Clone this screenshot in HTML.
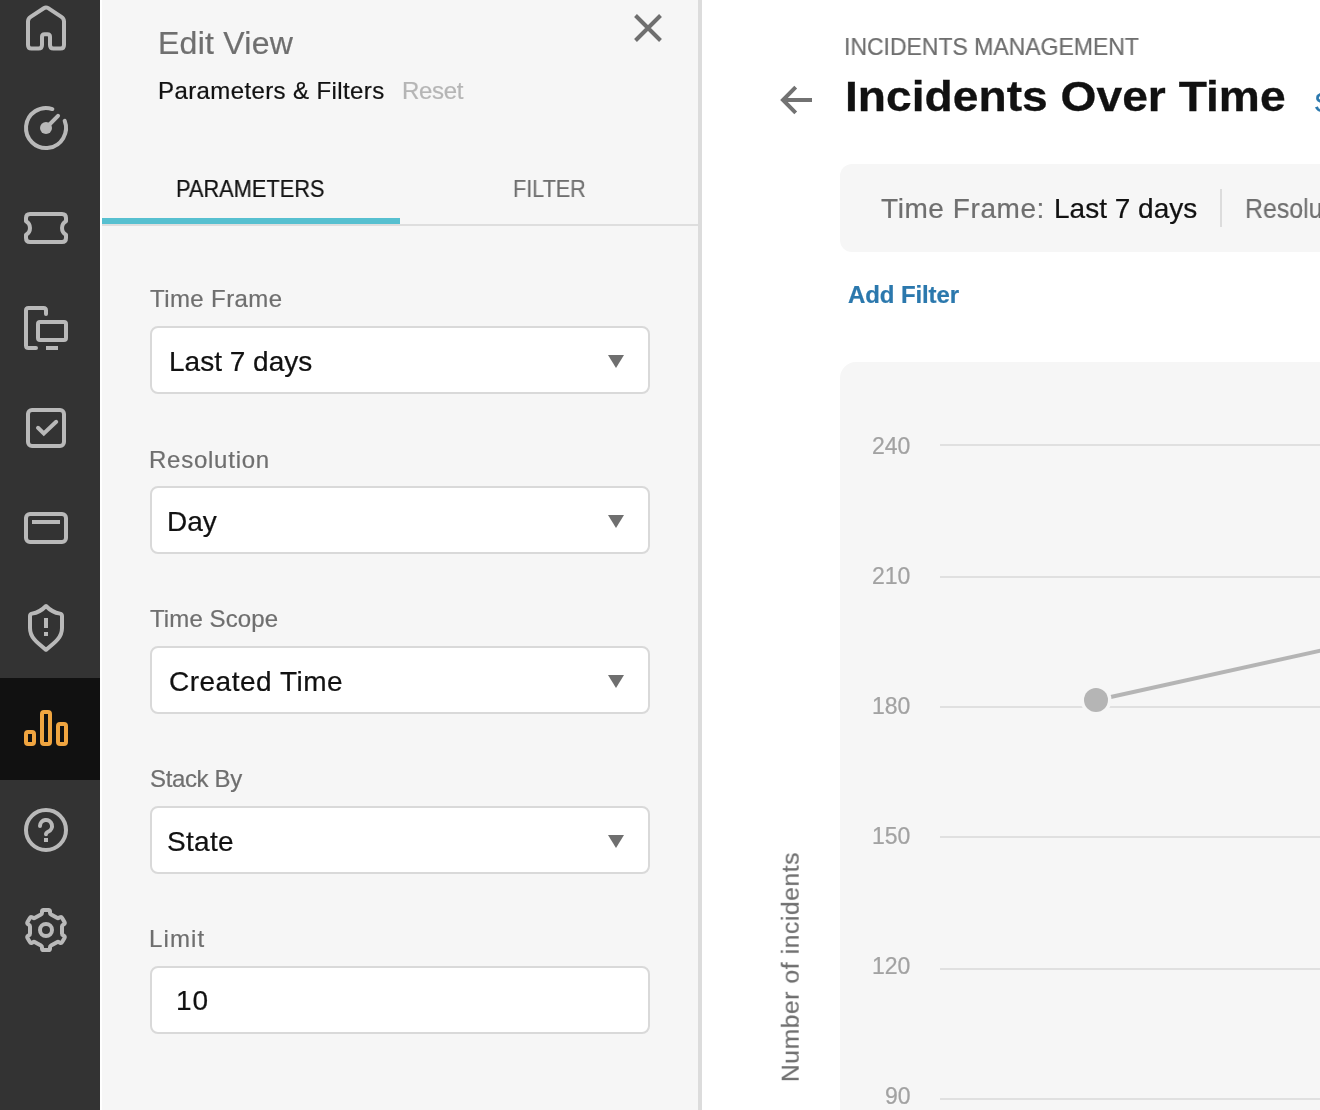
<!DOCTYPE html>
<html lang="en">
<head>
<meta charset="utf-8">
<title>Incidents Over Time</title>
<style>
*{box-sizing:border-box;margin:0;padding:0}
html,body{width:1320px;height:1110px;overflow:hidden;background:#fff}
body{font-family:"Liberation Sans",sans-serif;color:#111;position:relative}
#root{position:absolute;left:0;top:0;width:1320px;height:1110px;overflow:hidden}
.abs{position:absolute}
.t{position:absolute;white-space:nowrap;line-height:1;will-change:transform;-webkit-text-stroke-width:0.22px}
/* sidebar */
#side{position:absolute;left:0;top:0;width:100px;height:1110px;background:#333}
#side .active{position:absolute;left:0;top:678px;width:100px;height:102px;background:#111}
#side svg{position:absolute;left:22px;width:48px;height:48px;fill:none;stroke:#b9b9b9;stroke-width:4;stroke-linecap:round;stroke-linejoin:round;overflow:visible}
/* panel */
#panel{position:absolute;left:102px;top:0;width:600px;height:1110px;background:#f6f6f6;border-right:4px solid #dcdcdc}
.tabline{position:absolute;left:102px;top:224px;width:596px;height:2px;background:#dedede}
.tabactive{position:absolute;left:102px;top:218px;width:298px;height:6px;background:#57c0d0}
.lbl{color:#6f6f6f;font-size:24px}
.box{position:absolute;left:150px;width:500px;height:68px;background:#fff;border:2px solid #d9d9d9;border-radius:8px}
.val{font-size:28px;color:#111}
.caret{position:absolute;left:608px;width:0;height:0;border-left:8px solid transparent;border-right:8px solid transparent;border-top:13px solid #6f6f6f}
/* main */
#fbar{position:absolute;left:840px;top:164px;width:500px;height:88px;background:#f6f6f6;border-radius:12px}
#chart{position:absolute;left:840px;top:362px;width:500px;height:800px;background:#f6f6f6;border-radius:16px}
.grid{position:absolute;left:940px;width:380px;height:2px;background:#e0e0e0}
.ax{color:#a2a2a2;font-size:23px}
</style>
</head>
<body>
<div id="root">

<!-- SIDEBAR -->
<div id="side">
  <div class="active"></div>
  <!-- home -->
  <svg style="top:4px" viewBox="0 0 48 48"><path d="M6 17.6 V41 Q6 44.5 9.5 44.5 H16.5 Q20 44.5 20 41 V32.8 Q20 30.2 22.6 30.2 H25.4 Q28 30.2 28 32.8 V41 Q28 44.5 31.5 44.5 H38.5 Q42 44.5 42 41 V17.6 Q42 14.6 39.4 12.9 L26.2 4.2 Q24 2.8 21.8 4.2 L8.6 12.9 Q6 14.6 6 17.6 Z"/></svg>
  <!-- gauge -->
  <svg style="top:104px" viewBox="0 0 48 48"><path d="M30.35 5.03 A20 20 0 1 0 42.67 16.83"/><path d="M24 24 L36 11.8"/><circle cx="24" cy="24" r="6" fill="#b9b9b9" stroke="none"/></svg>
  <!-- ticket -->
  <svg style="top:204px" viewBox="0 0 48 48"><path d="M8 10 H40 Q44 10 44 14 V17.2 A7.8 7.8 0 0 0 44 30.8 V34 Q44 38 40 38 H8 Q4 38 4 34 V30.8 A7.8 7.8 0 0 0 4 17.2 V14 Q4 10 8 10 Z"/></svg>
  <!-- devices -->
  <svg style="top:304px" viewBox="0 0 48 48"><path d="M24 10 V6.5 Q24 4 21.5 4 H6.5 Q4 4 4 6.5 V41.5 Q4 44 6.5 44 H14"/><rect x="16" y="18" width="28" height="18" rx="2"/><path d="M24 44 H36" stroke-linecap="butt"/></svg>
  <!-- check -->
  <svg style="top:404px" viewBox="0 0 48 48"><rect x="6" y="6" width="36" height="36" rx="4"/><path d="M16 23.8 L21.8 29.4 L34.2 17.8" stroke-linejoin="miter"/></svg>
  <!-- card -->
  <svg style="top:504px" viewBox="0 0 48 48"><rect x="4" y="10" width="40" height="28" rx="4"/><path d="M10 18 H38" stroke-linecap="butt"/></svg>
  <!-- shield -->
  <svg style="top:604px" viewBox="0 0 48 48"><path d="M24 2 C20 6.2 15 8.8 10 9.6 Q8 10 8 12 V24 C8 33 14 38 24 45.8 C34 38 40 33 40 24 V12 Q40 10 38 9.6 C33 8.8 28 6.2 24 2 Z"/><path d="M24 14 V24 M24 28 V32" stroke-linecap="butt"/></svg>
  <!-- bars (active) -->
  <svg style="top:704px;stroke:#f0a540" viewBox="0 0 48 48"><rect x="4" y="28" width="8" height="12" rx="2"/><rect x="20" y="8" width="8" height="32" rx="2"/><rect x="36" y="20" width="8" height="20" rx="2"/></svg>
  <!-- help -->
  <svg style="top:806px" viewBox="0 0 48 48"><circle cx="24" cy="24" r="20"/><path d="M18 20 A6 6 0 1 1 26.5 25.5 C25 26.2 24 27 24 28.2"/><path d="M24 32 V36" stroke-linecap="butt"/></svg>
  <!-- gear -->
  <svg style="top:906px" viewBox="0 0 48 48"><path d="M18.96 8.43 Q20.00 7.83 20.00 6.63 L20.00 5.60 Q20.00 4.00 21.60 4.00 L26.40 4.00 Q28.00 4.00 28.00 5.60 L28.00 6.63 Q28.00 7.83 29.04 8.43 L34.96 11.85 Q36.00 12.45 37.04 11.85 L37.93 11.34 Q39.32 10.54 40.12 11.92 L42.52 16.08 Q43.32 17.46 41.93 18.26 L41.04 18.78 Q40.00 19.38 40.00 20.58 L40.00 27.42 Q40.00 28.62 41.04 29.22 L41.93 29.74 Q43.32 30.54 42.52 31.92 L40.12 36.08 Q39.32 37.46 37.93 36.66 L37.04 36.15 Q36.00 35.55 34.96 36.15 L29.04 39.57 Q28.00 40.17 28.00 41.37 L28.00 42.40 Q28.00 44.00 26.40 44.00 L21.60 44.00 Q20.00 44.00 20.00 42.40 L20.00 41.37 Q20.00 40.17 18.96 39.57 L13.04 36.15 Q12.00 35.55 10.96 36.15 L10.07 36.66 Q8.68 37.46 7.88 36.08 L5.48 31.92 Q4.68 30.54 6.07 29.74 L6.96 29.22 Q8.00 28.62 8.00 27.42 L8.00 20.58 Q8.00 19.38 6.96 18.78 L6.07 18.26 Q4.68 17.46 5.48 16.08 L7.88 11.92 Q8.68 10.54 10.07 11.34 L10.96 11.85 Q12.00 12.45 13.04 11.85 Z"/><circle cx="24" cy="24" r="6"/></svg>
</div>

<!-- PANEL -->
<div id="panel"></div>
<div class="tabline"></div>
<div class="tabactive"></div>

<div class="t" id="t_edit" style="left:158px;top:27px;font-size:32px;color:#6f6f6f;letter-spacing:0.25px">Edit View</div>
<div class="t" id="t_pf" style="left:158px;top:79px;font-size:24px;color:#111;letter-spacing:0.39px">Parameters &amp; Filters</div>
<div class="t" id="t_reset" style="left:401.5px;top:79px;font-size:24px;color:#b5b5b5;letter-spacing:-0.35px">Reset</div>
<svg class="abs" style="left:632px;top:12px" width="32" height="32" viewBox="0 0 32 32"><path d="M3.5 3.5 L28.5 28.5 M28.5 3.5 L3.5 28.5" stroke="#6f6f6f" stroke-width="4" fill="none"/></svg>

<div class="t" id="t_params" style="left:176px;top:177px;font-size:24px;color:#111;transform-origin:0 0;transform:scaleX(0.908)">PARAMETERS</div>
<div class="t" id="t_filter" style="left:513px;top:177px;font-size:24px;color:#6f6f6f;transform-origin:0 0;transform:scaleX(0.9)">FILTER</div>

<div class="t lbl" id="l1" style="left:150px;top:286.5px;letter-spacing:0.4px">Time Frame</div>
<div class="box" style="top:326px"></div><div class="caret" style="top:355px"></div>
<div class="t val" id="v1" style="left:168.5px;top:348px">Last 7 days</div>

<div class="t lbl" id="l2" style="left:149px;top:447.5px;letter-spacing:0.75px">Resolution</div>
<div class="box" style="top:486px"></div><div class="caret" style="top:515px"></div>
<div class="t val" id="v2" style="left:167px;top:507.5px">Day</div>

<div class="t lbl" id="l3" style="left:150px;top:607px;letter-spacing:0.1px">Time Scope</div>
<div class="box" style="top:646px"></div><div class="caret" style="top:675px"></div>
<div class="t val" id="v3" style="left:168.5px;top:668px;letter-spacing:0.5px">Created Time</div>

<div class="t lbl" id="l4" style="left:150px;top:767px;letter-spacing:-0.35px">Stack By</div>
<div class="box" style="top:806px"></div><div class="caret" style="top:835px"></div>
<div class="t val" id="v4" style="left:167px;top:827.5px;letter-spacing:0.3px">State</div>

<div class="t lbl" id="l5" style="left:149px;top:927px;letter-spacing:1.1px">Limit</div>
<div class="box" style="top:966px"></div>
<div class="t val" id="v5" style="left:176px;top:987px;letter-spacing:1px">10</div>

<!-- MAIN -->
<div class="t" id="m_crumb" style="left:844px;top:34.5px;font-size:24px;color:#6f6f6f;transform-origin:0 0;transform:scaleX(0.9575)">INCIDENTS MANAGEMENT</div>
<div class="t" id="m_title" style="left:845px;top:74.5px;font-size:43px;font-weight:bold;color:#111;-webkit-text-stroke:0.3px #111;transform-origin:0 0;transform:scaleX(1.074)">Incidents Over Time</div>
<div class="t" id="m_save" style="left:1314px;top:88px;font-size:28.5px;color:#2b78ad;-webkit-text-stroke:0.3px #2b78ad">Save</div>
<svg class="abs" style="left:776px;top:82px" width="40" height="36" viewBox="0 0 40 36"><path d="M19.7 5.2 L7 18 L19.7 30.8 M7 18 H36" stroke="#727272" stroke-width="4" fill="none"/></svg>

<div id="fbar"></div>
<div class="t" id="f1" style="left:881px;top:194.6px;font-size:28px;color:#6f6f6f;letter-spacing:0.57px">Time Frame:</div>
<div class="t" id="f2" style="left:1053.5px;top:194.6px;font-size:28px;color:#111">Last 7 days</div>
<div class="abs" style="left:1220px;top:189px;width:2px;height:38px;background:#dcdcdc"></div>
<div class="t" id="f3" style="left:1245px;top:194.6px;font-size:28px;color:#6f6f6f;transform-origin:0 0;transform:scaleX(0.89)">Resolution:</div>

<div class="t" id="m_add" style="left:848px;top:283px;font-size:24px;font-weight:bold;color:#2b78ad;letter-spacing:-0.1px">Add Filter</div>

<div id="chart"></div>
<div class="grid" style="top:444px"></div>
<div class="grid" style="top:576px"></div>
<div class="grid" style="top:706px"></div>
<div class="grid" style="top:836px"></div>
<div class="grid" style="top:968px"></div>
<div class="grid" style="top:1098px"></div>
<div class="t ax" id="a240" style="left:872px;top:435px">240</div>
<div class="t ax" id="a210" style="left:872px;top:565px">210</div>
<div class="t ax" id="a180" style="left:872px;top:695px">180</div>
<div class="t ax" id="a150" style="left:872px;top:825px">150</div>
<div class="t ax" id="a120" style="left:872px;top:955px">120</div>
<div class="t ax" id="a90" style="left:885px;top:1085px">90</div>

<svg class="abs" style="left:840px;top:362px" width="480" height="748" viewBox="840 362 480 748">
  <line x1="1096" y1="700.2" x2="1330" y2="648.6" stroke="#b5b5b5" stroke-width="4"/>
  <circle cx="1096" cy="700" r="15.5" fill="#f6f6f6"/>
  <circle cx="1096" cy="700" r="12" fill="#b5b5b5"/>
</svg>

<div class="t" id="ytitle" style="left:790.6px;top:966.5px;font-size:24.6px;color:#6f6f6f;transform:translate(-50%,-50%) rotate(-90deg);letter-spacing:0.6px">Number of incidents</div>

</div>
</body>
</html>
